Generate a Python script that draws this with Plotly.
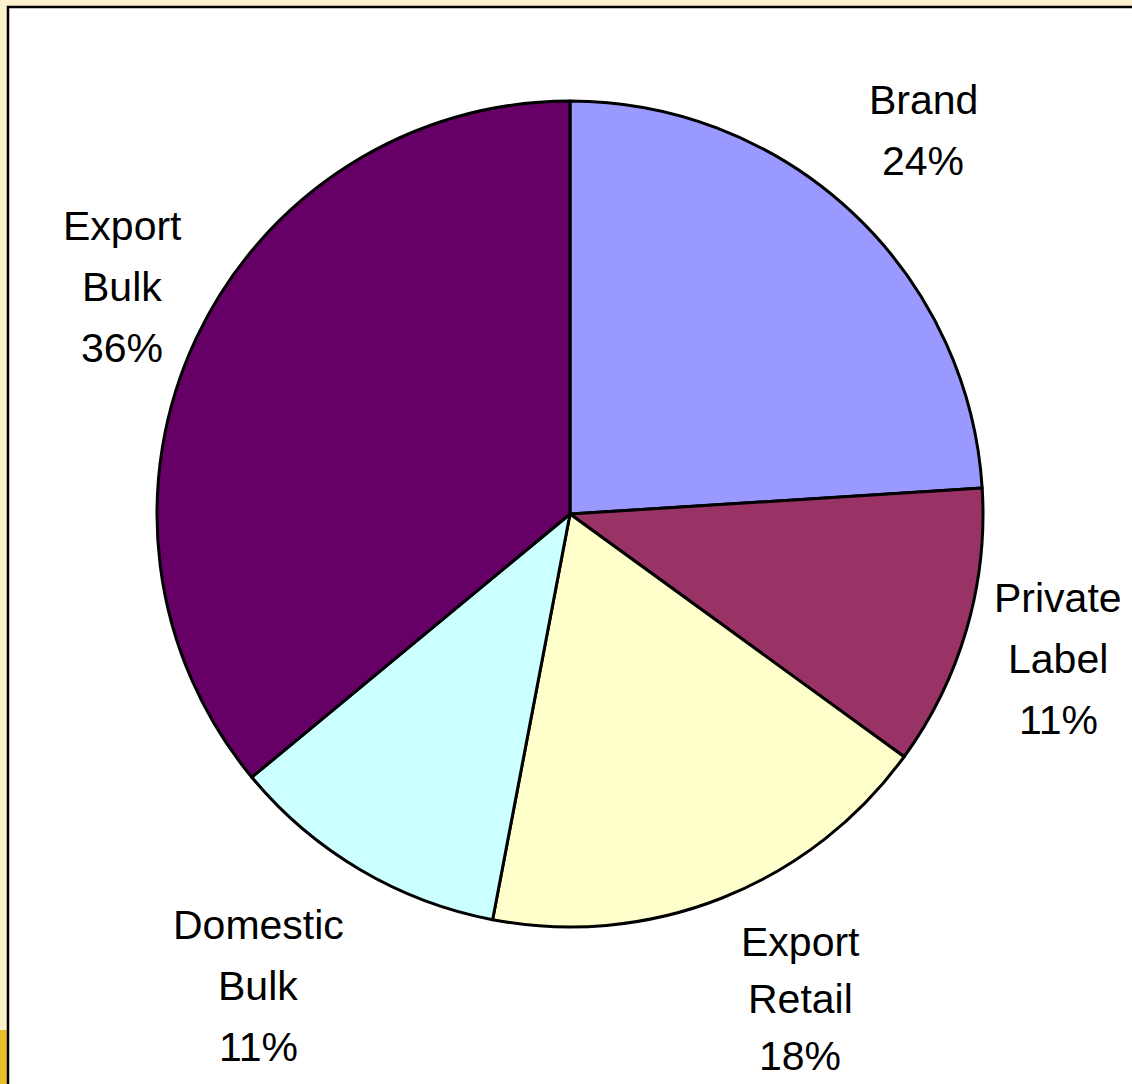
import plotly.graph_objects as go

# Sales split by channel
categories = ["Brand", "Private Label", "Export Retail", "Domestic Bulk", "Export Bulk"]
shares = [24, 11, 18, 11, 36]
colors = ["#9999FF", "#993366", "#FFFFCC", "#CCFFFF", "#660066"]

# label lines as displayed beside each slice
label_lines = [
    ["Brand"],
    ["Private", "Label"],
    ["Export", "Retail"],
    ["Domestic", "Bulk"],
    ["Export", "Bulk"],
]
# label block anchors (pixel x, pixel y of first line)
label_anchor = [(923, 100), (1058, 598), (800, 942), (258, 925), (122, 226)]
# vertical distance between label lines, per label (px)
label_step = [61, 61, 57, 61, 61]

W, H = 1132, 1084
FONT = dict(family="Liberation Sans, Arial, sans-serif", size=41, color="#000000")

fig = go.Figure(
    go.Pie(
        labels=categories,
        values=shares,
        sort=False,
        direction="clockwise",
        rotation=0,
        marker=dict(colors=colors, line=dict(color="#000000", width=3)),
        textinfo="none",
        hoverinfo="label+percent",
        showlegend=False,
        domain=dict(x=[157 / W, 983 / W], y=[1 - 928 / H, 1 - 100 / H]),
    )
)

annotations = []
total = sum(shares)
for lines, (ax, ay), step, v in zip(label_lines, label_anchor, label_step, shares):
    texts = lines + [f"{round(100 * v / total)}%"]
    for i, t in enumerate(texts):
        annotations.append(
            dict(
                x=ax / W,
                y=1 - (ay + i * step) / H,
                xref="paper",
                yref="paper",
                text=t,
                showarrow=False,
                font=FONT,
                borderpad=0,
                xanchor="center",
                yanchor="middle",
            )
        )

shapes = [
    # gold accent at lower left of the frame
    dict(type="rect", xref="paper", yref="paper",
         x0=0, x1=8 / W, y0=0, y1=1 - 1030 / H,
         fillcolor="#E8BE2A", line=dict(width=0), layer="below"),
    # white chart area with black frame
    dict(type="rect", xref="paper", yref="paper",
         x0=8 / W, x1=1.01, y0=-0.01, y1=1 - 7 / H,
         fillcolor="#FFFFFF", line=dict(color="#000000", width=2.5), layer="below"),
]

fig.update_layout(
    width=W,
    height=H,
    margin=dict(l=0, r=0, t=0, b=0),
    paper_bgcolor="#FBF1CD",
    plot_bgcolor="#FFFFFF",
    annotations=annotations,
    shapes=shapes,
)

fig.write_html("out.html")
